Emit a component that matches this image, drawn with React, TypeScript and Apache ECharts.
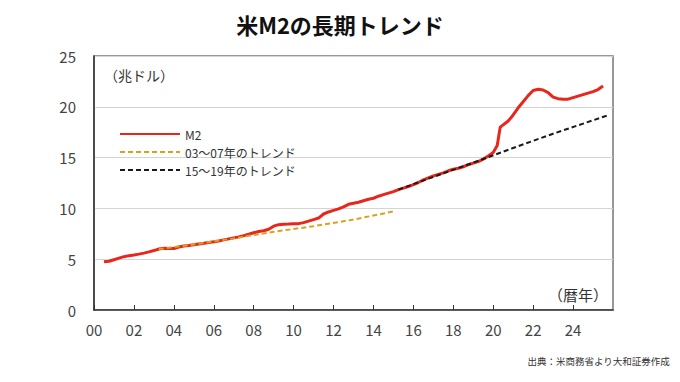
import React, { useEffect, useRef } from "react";
import * as echarts from "echarts";

const titleText = "米M2の長期トレンド";
const sourceText = "出典：米商務省より大和証券作成";
const yUnit = "（兆ドル）";
const xUnit = "（暦年）";
const seriesNames = ["M2", "03～07年のトレンド", "15～19年のトレンド"];

const m2Years = [
  2000.5, 2000.75, 2001.0, 2001.25, 2001.5, 2001.75, 2002.0, 2002.25, 2002.5, 2002.75,
  2003.0, 2003.25, 2003.5, 2003.75, 2004.0, 2004.25, 2004.5, 2004.75, 2005.0, 2005.25,
  2005.5, 2005.75, 2006.0, 2006.25, 2006.5, 2006.75, 2007.0, 2007.25, 2007.5, 2007.75,
  2008.0, 2008.25, 2008.5, 2008.75, 2009.0, 2009.25, 2009.5, 2009.75, 2010.0, 2010.25,
  2010.5, 2010.75, 2011.0, 2011.25, 2011.5, 2011.75, 2012.0, 2012.25, 2012.5, 2012.75,
  2013.0, 2013.25, 2013.5, 2013.75, 2014.0, 2014.25, 2014.5, 2014.75, 2015.0, 2015.25,
  2015.5, 2015.75, 2016.0, 2016.25, 2016.5, 2016.75, 2017.0, 2017.25, 2017.5, 2017.75,
  2018.0, 2018.25, 2018.5, 2018.75, 2019.0, 2019.25, 2019.5, 2019.75, 2020.0, 2020.2,
  2020.35, 2020.75, 2021.0, 2021.25, 2021.5, 2021.75, 2022.0, 2022.25, 2022.5, 2022.75,
  2023.0, 2023.25, 2023.5, 2023.75, 2024.0, 2024.25, 2024.5, 2024.75, 2025.0, 2025.25,
  2025.5,
];
const m2Values = [
  4.75, 4.8, 4.95, 5.1, 5.25, 5.35, 5.42, 5.5, 5.6, 5.72,
  5.85, 6.0, 6.07, 6.05, 6.05, 6.2, 6.3, 6.35, 6.42, 6.5,
  6.57, 6.65, 6.72, 6.8, 6.9, 7.0, 7.1, 7.2, 7.32, 7.45,
  7.6, 7.72, 7.8, 7.95, 8.25, 8.4, 8.45, 8.47, 8.5, 8.5,
  8.6, 8.75, 8.9, 9.05, 9.45, 9.65, 9.8, 9.95, 10.15, 10.4,
  10.5, 10.6, 10.75, 10.9, 11.0, 11.2, 11.35, 11.5, 11.65, 11.85,
  12.0, 12.15, 12.35, 12.55, 12.8, 13.0, 13.2, 13.35, 13.5, 13.7,
  13.85, 13.95, 14.1, 14.3, 14.45, 14.6, 14.85, 15.15, 15.5, 16.2,
  18.0, 18.6, 19.2, 19.9, 20.5, 21.1, 21.6, 21.72, 21.65, 21.4,
  20.95, 20.8, 20.75, 20.75, 20.9, 21.05, 21.2, 21.35, 21.5, 21.7,
  22.05,
];

const trendAYears = [2003.25, 2005, 2007, 2009, 2011, 2013, 2015];
const trendAValues = [6.0, 6.45, 7.05, 7.7, 8.25, 8.9, 9.7];

const trendBYears = [2015.25, 2017, 2019, 2021, 2023, 2025.8];
const trendBValues = [11.85, 13.1, 14.5, 15.95, 17.35, 19.2];

const xMin = 2000;
const xMax = 2026;
const xInterval = 2;
const yMin = 0;
const yMax = 25;
const yInterval = 5;

const zip = (xs: number[], ys: number[]) => xs.map((x, i) => [x, ys[i]]);

const FONT = "'Noto Sans CJK JP', 'Noto Sans', sans-serif";

export default function App() {
  const ref = useRef<HTMLDivElement>(null);
  useEffect(() => {
    if (!ref.current) return;
    const chart = echarts.init(ref.current, undefined, { renderer: "svg" });
    chart.setOption({
      animation: false,
      backgroundColor: "#ffffff",
      textStyle: { fontFamily: FONT },
      title: {
        text: titleText,
        left: "center",
        top: 8,
        textStyle: { fontFamily: FONT, fontSize: 22, fontWeight: "bold", color: "#111" },
      },
      grid: {
        left: 94,
        right: 67,
        top: 56,
        bottom: 72,
        show: true,
        borderColor: "#777",
        borderWidth: 1.5,
        backgroundColor: "transparent",
      },
      legend: {
        orient: "vertical",
        left: 114,
        top: 122,
        itemWidth: 60,
        itemHeight: 14,
        itemGap: 4,
        data: seriesNames,
        itemStyle: { opacity: 0 },
        textStyle: { fontFamily: FONT, fontSize: 12, lineHeight: 14, color: "#333" },
      },
      xAxis: {
        type: "value",
        min: xMin,
        max: xMax,
        interval: xInterval,
        axisLine: { show: true, lineStyle: { color: "#333", width: 1.5 } },
        axisTick: { show: true, inside: true, length: 5, lineStyle: { color: "#333" } },
        splitLine: { show: false },
        axisLabel: {
          margin: 12,
          fontSize: 15,
          color: "#444",
          fontFamily: FONT,
          showMaxLabel: false,
          formatter: (v: number) => String(Math.round(v) % 100).padStart(2, "0"),
        },
      },
      yAxis: {
        type: "value",
        min: yMin,
        max: yMax,
        interval: yInterval,
        axisLine: { show: true, lineStyle: { color: "#333", width: 1.5 } },
        axisTick: { show: false },
        splitLine: { show: true, lineStyle: { color: "#d4d4d4", width: 1 } },
        axisLabel: { margin: 18, fontSize: 15, color: "#444", fontFamily: FONT },
      },
      series: [
        {
          name: seriesNames[0],
          type: "line",
          data: zip(m2Years, m2Values),
          showSymbol: false,
          symbol: "none",
          smooth: false,
          lineStyle: { color: "#e8261b", width: 3 },
          itemStyle: { color: "#e8261b" },
          z: 2,
        },
        {
          name: seriesNames[1],
          type: "line",
          data: zip(trendAYears, trendAValues),
          showSymbol: false,
          symbol: "none",
          lineStyle: { color: "#d9a21e", width: 2, type: [5, 3] },
          itemStyle: { color: "#d9a21e" },
          z: 3,
        },
        {
          name: seriesNames[2],
          type: "line",
          data: zip(trendBYears, trendBValues),
          showSymbol: false,
          symbol: "none",
          lineStyle: { color: "#1a1a1a", width: 2, type: [5, 3] },
          itemStyle: { color: "#1a1a1a" },
          z: 4,
        },
      ],
      graphic: [
        {
          type: "text",
          left: 104,
          top: 68,
          style: { text: yUnit, fontFamily: FONT, fontSize: 14, fill: "#333" },
        },
        {
          type: "text",
          right: 72,
          top: 287,
          style: { text: xUnit, fontFamily: FONT, fontSize: 15, fill: "#333" },
        },
        {
          type: "text",
          right: 10,
          top: 356,
          style: { text: sourceText, fontFamily: FONT, fontSize: 9.5, fill: "#333" },
        },
      ],
    });
    return () => chart.dispose();
  }, []);
  return (
    <div
      ref={ref}
      style={{ position: "absolute", left: 0, top: 0, width: 680, height: 382 }}
    />
  );
}
